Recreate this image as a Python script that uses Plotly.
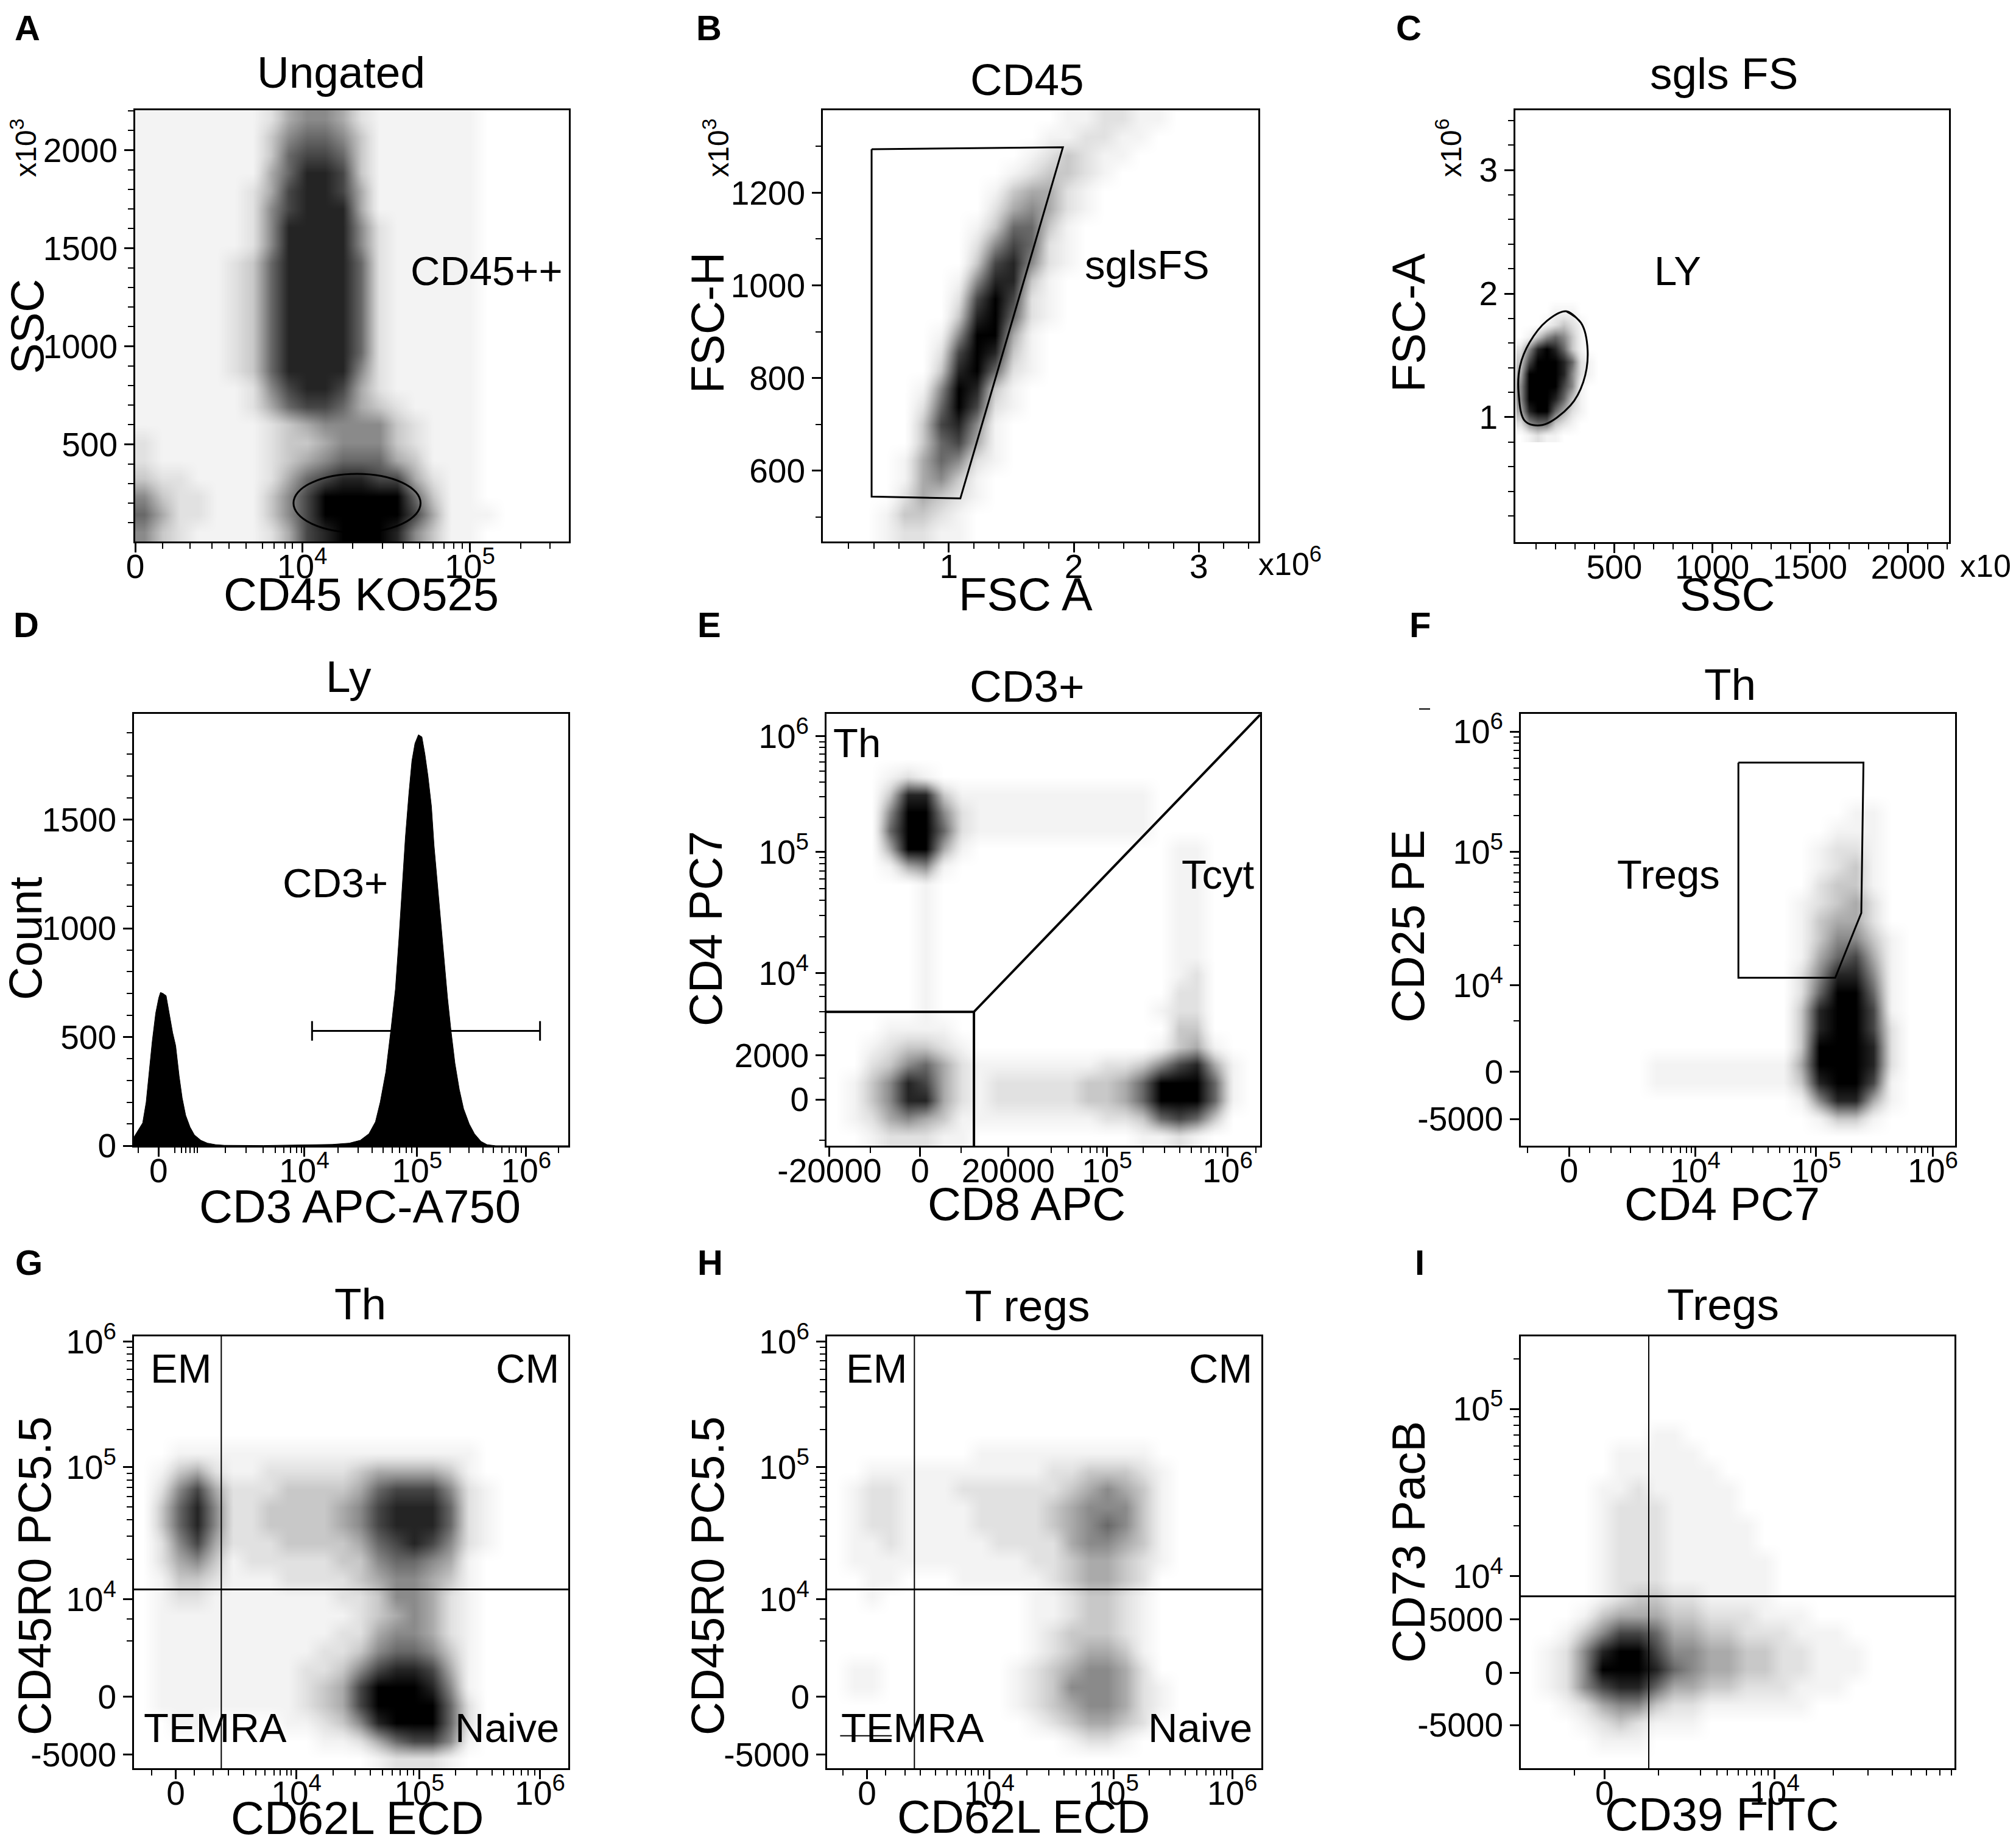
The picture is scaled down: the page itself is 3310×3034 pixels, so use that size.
import numpy as np
import plotly.graph_objects as go

W, H = 3310, 3034
FONT = "Liberation Sans, Arial, Helvetica, sans-serif"

# ---------------------------------------------------------------------------
# Dot density: one string per row of cells, top row first.
# Each digit says how densely the dots cover that cell: 0 empty .. 9 solid black.
# ---------------------------------------------------------------------------
A_density = [
    "111111124554211111100000",
    "111111135665311111100000",
    "111111136776311111100000",
    "111111146887311111100000",
    "111111247887411111100000",
    "111111257888411111100000",
    "111111258888521111100000",
    "111111258888521111100000",
    "111112368888621111100000",
    "111112368888621111100000",
    "111112368888621111100000",
    "111112368888621111100000",
    "111112368888621111100000",
    "111112368888621111100000",
    "111112368888521111100000",
    "111111257887421111100000",
    "111111246776432111100000",
    "111111123455553211100000",
    "211111123345553211100000",
    "211111123456664311100000",
    "322111124678877421100000",
    "532211135799999631100000",
    "642211135799999741110000",
    "532111124789998531100000",
]
A_grid_x = (0.0, 1.0)       # CD45 KO525 (display scale)
A_grid_y = (5, 2204)        # SSC x10^3

B_density = [
    "000000000000011221100000",
    "000000000000112211000000",
    "000000000001232110000000",
    "000000000012332100000000",
    "000000000134421000000000",
    "000000000245421000000000",
    "000000001366310000000000",
    "000000002576210000000000",
    "000000003785210000000000",
    "000000015883100000000000",
    "000000027972100000000000",
    "000000038962100000000000",
    "000000159941000000000000",
    "000000279831000000000000",
    "000000389621000000000000",
    "000001598310000000000000",
    "000002697210000000000000",
    "000003785100000000000000",
    "000003674100000000000000",
    "000014652100000000000000",
    "000014531000000000000000",
    "000024321000000000000000",
    "000133210000000000000000",
    "000122110000000000000000",
]
B_grid_x = (-0.007, 3.476)  # FSC A x10^6
B_grid_y = (447, 1378)      # FSC-H x10^3

C_density = [
    "0000000000",
    "0000111000",
    "0001232100",
    "0135653100",
    "2589863100",
    "3799986210",
    "4999985210",
    "5999975100",
    "5999863100",
    "4899642100",
    "2566321000",
    "0121100000",
]
C_grid_x = (0, 440)         # SSC x10^3
C_grid_y = (0.8, 2.0)       # FSC-A x10^6

E_density = [
    "000000000000000000000000",
    "000000000000000000000000",
    "000000000000000000000000",
    "000121000000000000000000",
    "000388311111111111000000",
    "000599521111111111000000",
    "000699621111111111000000",
    "000499410000000000011000",
    "000145100000000000011000",
    "000001000000000000011000",
    "000001000000000000011000",
    "000001000000000000011000",
    "000001000000000000011000",
    "000001000000000000011000",
    "000001000000000000012000",
    "000001000000000000022000",
    "000001000000000000122000",
    "000111100000000000033000",
    "001233210000000000134100",
    "002356421111111223578410",
    "013587421222223346999610",
    "013588421222223346999610",
    "012454311111111223676300",
    "001222110000000001121000",
]
F_density = [
    "000000000000000000000000",
    "000000000000000000000000",
    "000000000000000000000000",
    "000000000000000000000000",
    "000000000000000000000000",
    "000000000000000000110000",
    "000000000000000001110000",
    "000000000000000012210000",
    "000000000000000012310000",
    "000000000000000023310000",
    "000000000000000123420000",
    "000000000000000134420000",
    "000000000000000135531000",
    "000000000000000146741000",
    "000000000000000258851000",
    "000000000000000269961000",
    "000000000000000389971000",
    "000000000000000389972000",
    "000000000000000399982000",
    "000000011111111499982000",
    "000000011111111389971000",
    "000000000000000158841000",
    "000000000000000013310000",
    "000000000000000000000000",
]
G_density = [
    "000000000000000000000000",
    "000000000000000000000000",
    "000000000000000000000000",
    "000000000000000000000000",
    "000000000000000000000000",
    "000000000000000000000000",
    "001111111111111111100000",
    "013421122222344443100000",
    "025742223333467775210000",
    "036852233334578886210000",
    "036852233334578886210000",
    "025742223333467875210000",
    "024531222223356654100000",
    "013321112222345543100000",
    "012211111112235542100000",
    "011111111111234542100000",
    "011111111112245542100000",
    "011111111122356653100000",
    "011111111223578874100000",
    "011111111234799985100000",
    "011111111234799996200000",
    "001100001123589996200000",
    "000000000011246775100000",
    "000000000000012221000000",
]
H_density = [
    "000000000000000000000000",
    "000000000000000000000000",
    "000000000000000000000000",
    "000000000000000000000000",
    "000000000000000000000000",
    "000000000000000000000000",
    "000000001111111111000000",
    "001111111111223332100000",
    "012211122222234543100000",
    "012211112222345553100000",
    "012211112222345653100000",
    "011211111222245543100000",
    "011111111112234432100000",
    "001100011111234432000000",
    "001000000001123321000000",
    "000000000001123321000000",
    "000000000001233321000000",
    "000000000001234431000000",
    "011000000012345542000000",
    "011000000012355542100000",
    "000000000012345542100000",
    "000000000001234432000000",
    "000000000000012210000000",
    "000000000000000000000000",
]
I_density = [
    "000000000000000000000000",
    "000000000000000000000000",
    "000000000000000000000000",
    "000000000000000000000000",
    "000000000000000000000000",
    "000000011000000000000000",
    "000001111100000000000000",
    "000001111110000000000000",
    "000011211111000000000000",
    "000012221111000000000000",
    "000012221111100000000000",
    "000012221111100000000000",
    "000012221111110000000000",
    "000012221111110000000000",
    "000012332211110000000000",
    "000134443322211100000000",
    "001357764433222111000000",
    "012589975544332211100000",
    "012599986544332211100000",
    "012578864433222111000000",
    "001245532211111100000000",
    "000123211100000000000000",
    "000011100000000000000000",
    "000000000000000000000000",
]
UNIT = (0.0, 1.0)           # logicle axes are kept in display scale 0..1

# panel D histogram (CD3 APC-A750 display scale, count)
D_x = [0.0, 0.003, 0.012, 0.02, 0.028, 0.035, 0.042, 0.05, 0.057, 0.061, 0.067,
       0.074, 0.081, 0.089, 0.096, 0.104, 0.111, 0.119, 0.129, 0.139, 0.154,
       0.169, 0.188, 0.208, 0.298, 0.397, 0.456, 0.496, 0.521, 0.541, 0.556,
       0.567, 0.58, 0.592, 0.602, 0.61, 0.617, 0.625, 0.633, 0.64, 0.647,
       0.655, 0.663, 0.67, 0.677, 0.685, 0.691, 0.699, 0.707, 0.714, 0.722,
       0.73, 0.739, 0.749, 0.759, 0.772, 0.784, 0.799, 0.813, 0.833, 1.0]
D_count = [40, 50, 80, 105, 200, 340, 480, 610, 680, 705, 700,
           690, 610, 520, 460, 320, 220, 140, 86, 50, 25,
           12, 5, 2, 1, 3, 6, 12, 25, 55, 110,
           200, 340, 540, 720, 950, 1180, 1420, 1620, 1770, 1850,
           1890, 1880, 1800, 1700, 1560, 1380, 1200, 1000, 840, 680,
           530, 380, 260, 170, 100, 55, 20, 5, 0, 0]

# gates
A_gate_x = [0.365, 0.658]
A_gate_y = [51, 350]
B_gate_x = [0.383, 1.913, 1.093, 0.383, 0.383]
B_gate_y = [1294, 1298, 540, 544, 1294]
C_gate_x = [254, 331, 364, 342, 276, 133, 45, 12, 19, 67, 155, 254, 331]
C_gate_y = [1.857, 1.762, 1.540, 1.286, 1.095, 0.937, 0.968, 1.190, 1.413, 1.603, 1.778, 1.857, 1.762]
D_gate_x = [0.41, 0.935]
D_gate_y = 528
E_gate_x = [0.0, 0.34, 0.34, 0.34, 1.0]
E_gate_y = [0.31, 0.31, 0.0, 0.31, 0.998]
F_gate_x = [0.501, 0.789, 0.784, 0.724, 0.501, 0.501]
F_gate_y = [0.887, 0.887, 0.539, 0.389, 0.389, 0.887]
G_quad = (0.201, 0.414)
H_quad = (0.201, 0.414)
I_quad = (0.295, 0.398)

# ---------------------------------------------------------------------------
# page geometry (pixels): left, right, top, bottom of every plot frame
# ---------------------------------------------------------------------------
FRAMES = {
    1: (214, 926, 173, 881), 2: (1343, 2058, 173, 881), 3: (2480, 3192, 173, 882),
    4: (212, 925, 1164, 1873), 5: (1349, 2061, 1164, 1873), 6: (2489, 3202, 1164, 1873),
    7: (212, 925, 2186, 2895), 8: (1350, 2063, 2186, 2895), 9: (2489, 3201, 2186, 2895),
}

GRAYS = [255, 243, 225, 200, 170, 138, 104, 70, 36, 0]
CSCALE = [[i / 9, "rgb({0},{0},{0})".format(g)] for i, g in enumerate(GRAYS)]


def sfx(n):
    return "" if n == 1 else str(n)


def logm(start, decade, stop=1.0):
    out = []
    for m in range(2, 10):
        v = start + decade * np.log10(m)
        if v < stop:
            out.append(round(float(v), 4))
    return out


def sup(e):
    return "10<sup>%d</sup>" % e


def density(rows, xlim, ylim, n):
    for r in rows:
        assert len(r) == len(rows[0]), (n, r)
    nx, ny = len(rows[0]), len(rows)
    dx = (xlim[1] - xlim[0]) / nx
    dy = (ylim[1] - ylim[0]) / ny
    z = [[int(ch) for ch in r] for r in reversed(rows)]
    xs = [xlim[0] + (i + 0.5) * dx for i in range(nx)]
    ys = [ylim[0] + (j + 0.5) * dy for j in range(ny)]
    return go.Heatmap(z=z, x=xs, y=ys, xaxis="x" + sfx(n), yaxis="y" + sfx(n),
                      colorscale=CSCALE, zmin=0, zmax=9, zsmooth="best",
                      showscale=False, hoverinfo="skip")


def axis(n, letter, rng, vals, text, minor):
    l, r, t, b = FRAMES[n]
    if letter == "x":
        dom = [l / W, r / W]
        anchor = "y" + sfx(n)
        standoff = -24
    else:
        dom = [1 - b / H, 1 - t / H]
        anchor = "x" + sfx(n)
        standoff = 0
    return dict(domain=dom, anchor=anchor, range=rng, automargin=False,
                showline=True, mirror=True,
                linecolor="black", linewidth=3, showgrid=False, zeroline=False,
                ticks="outside", ticklen=15, tickwidth=3, tickcolor="black",
                ticklabelstandoff=standoff,
                tickmode="array", tickvals=vals, ticktext=text,
                tickfont=dict(family=FONT, size=55, color="black"),
                minor=dict(tickmode="array", tickvals=minor, ticks="outside",
                           ticklen=9, tickwidth=2, tickcolor="black", showgrid=False),
                fixedrange=True)


fig = go.Figure()

# density clouds
fig.add_trace(density(A_density, A_grid_x, A_grid_y, 1))
fig.add_trace(density(B_density, B_grid_x, B_grid_y, 2))
fig.add_trace(density(C_density, C_grid_x, C_grid_y, 3))
fig.add_trace(density(E_density, UNIT, UNIT, 5))
fig.add_trace(density(F_density, UNIT, UNIT, 6))
fig.add_trace(density(G_density, UNIT, UNIT, 7))
fig.add_trace(density(H_density, UNIT, UNIT, 8))
fig.add_trace(density(I_density, UNIT, UNIT, 9))

# histogram
fig.add_trace(go.Scatter(x=D_x, y=D_count, mode="lines", fill="tozeroy",
                         fillcolor="black", line=dict(color="black", width=1),
                         xaxis="x4", yaxis="y4", hoverinfo="skip"))

# polygon / curved gates drawn as lines
GATE = dict(color="black", width=3)
fig.add_trace(go.Scatter(x=B_gate_x, y=B_gate_y, mode="lines", line=GATE,
                         xaxis="x2", yaxis="y2", hoverinfo="skip"))
fig.add_trace(go.Scatter(x=C_gate_x, y=C_gate_y, mode="lines",
                         line=dict(color="black", width=3, shape="spline", smoothing=1.0),
                         xaxis="x3", yaxis="y3", hoverinfo="skip"))
fig.add_trace(go.Scatter(x=E_gate_x, y=E_gate_y, mode="lines",
                         line=dict(color="black", width=4),
                         xaxis="x5", yaxis="y5", hoverinfo="skip"))
fig.add_trace(go.Scatter(x=F_gate_x, y=F_gate_y, mode="lines", line=GATE,
                         xaxis="x6", yaxis="y6", hoverinfo="skip"))

shapes = [
    dict(type="circle", xref="x", yref="y", x0=A_gate_x[0], x1=A_gate_x[1],
         y0=A_gate_y[0], y1=A_gate_y[1], line=GATE),
    dict(type="line", xref="x4", yref="y4", x0=D_gate_x[0], x1=D_gate_x[1],
         y0=D_gate_y, y1=D_gate_y, line=GATE),
    dict(type="line", xref="x4", yref="y4", x0=D_gate_x[0], x1=D_gate_x[0],
         y0=D_gate_y - 45, y1=D_gate_y + 45, line=GATE),
    dict(type="line", xref="x4", yref="y4", x0=D_gate_x[1], x1=D_gate_x[1],
         y0=D_gate_y - 45, y1=D_gate_y + 45, line=GATE),
    # small stray segment inside TEMRA label of panel H
    dict(type="line", xref="x8", yref="y8", x0=0.03, x1=0.149, y0=0.075, y1=0.075,
         line=dict(color="black", width=2)),
    # small stray dash left of panel F title
    dict(type="line", xref="paper", yref="paper", x0=2322 / W, x1=2340 / W,
         y0=1 - 1156 / H, y1=1 - 1156 / H, line=dict(color="black", width=2)),
]
for n, (qx, qy) in ((7, G_quad), (8, H_quad), (9, I_quad)):
    s = sfx(n)
    shapes.append(dict(type="line", xref="x" + s, yref="y" + s, x0=qx, x1=qx, y0=0, y1=1,
                       line=dict(color="black", width=2)))
    shapes.append(dict(type="line", xref="x" + s, yref="y" + s, x0=0, x1=1, y0=qy, y1=qy,
                       line=dict(color="black", width=3)))


# axes
def lin(a, b, step, skip):
    return [round(float(v), 4) for v in np.arange(a, b, step)
            if all(abs(v - k) > 1e-6 for k in skip)]


L = {}
L["xaxis"] = axis(1, "x", [0, 1], [0, 0.385, 0.772], ["0", sup(4), sup(5)],
                  [0.0625, 0.127, 0.177, 0.216, 0.256, 0.294, 0.32, 0.345, 0.363]
                  + logm(0.385, 0.387) + logm(0.772, 0.387))
L["yaxis"] = axis(1, "y", [5, 2204], [500, 1000, 1500, 2000], ["500", "1000", "1500", "2000"],
                  lin(100, 2201, 100, [500, 1000, 1500, 2000]))
L["xaxis2"] = axis(2, "x", [-0.007, 3.476], [1, 2, 3], ["1", "2", "3"],
                   lin(0.2, 3.45, 0.2, [1, 2, 3]))
L["yaxis2"] = axis(2, "y", [447, 1378], [600, 800, 1000, 1200], ["600", "800", "1000", "1200"],
                   lin(500, 1378, 100, [600, 800, 1000, 1200]))
L["xaxis3"] = axis(3, "x", [-5, 2209], [500, 1000, 1500, 2000], ["500", "1000", "1500", "2000"],
                   lin(100, 2201, 100, [500, 1000, 1500, 2000]))
L["yaxis3"] = axis(3, "y", [-0.01, 3.483], [1, 2, 3], ["1", "2", "3"],
                   lin(0.2, 3.45, 0.2, [1, 2, 3]))
L["xaxis4"] = axis(4, "x", [0, 1], [0.0565, 0.392, 0.652, 0.903], ["0", sup(4), sup(5), sup(6)],
                   [0.0099, 0.094, 0.109, 0.119, 0.129, 0.139, 0.146, 0.21, 0.258, 0.298,
                    0.325, 0.345, 0.36, 0.374, 0.385]
                   + logm(0.392, 0.26) + logm(0.652, 0.251) + [0.977])
L["yaxis4"] = axis(4, "y", [0, 1986], [0, 500, 1000, 1500], ["0", "500", "1000", "1500"],
                   lin(100, 1986, 100, [500, 1000, 1500]))
L["xaxis5"] = axis(5, "x", [0, 1], [0.007, 0.2155, 0.419, 0.647, 0.925],
                   ["-20000", "0", "20000", sup(5), sup(6)],
                   [0.101, 0.31, 0.518, 0.558, 0.588, 0.608, 0.623, 0.637]
                   + logm(0.647, 0.278) + [0.99])
L["yaxis5"] = axis(5, "y", [0, 1], [0.107, 0.209, 0.4, 0.68, 0.948],
                   ["0", "2000", sup(4), sup(5), sup(6)],
                   [0.012, 0.157, 0.262, 0.31, 0.345, 0.372] + logm(0.4, 0.28) + logm(0.68, 0.268))
L["xaxis6"] = axis(6, "x", [0, 1], [0.111, 0.402, 0.68, 0.949], ["0", sup(4), sup(5), sup(6)],
                   [0.015, 0.159, 0.208, 0.253, 0.298, 0.327, 0.347, 0.367, 0.382, 0.392]
                   + logm(0.402, 0.278) + logm(0.68, 0.269))
L["yaxis6"] = axis(6, "y", [0, 1], [0.062, 0.171, 0.371, 0.68, 0.959],
                   ["-5000", "0", sup(4), sup(5), sup(6)],
                   [0.289] + logm(0.371, 0.309) + logm(0.68, 0.279))
L["xaxis7"] = axis(7, "x", [0, 1], [0.096, 0.374, 0.657, 0.935], ["0", sup(4), sup(5), sup(6)],
                   [0.04, 0.139, 0.183, 0.218, 0.253, 0.28, 0.302, 0.322, 0.337, 0.352, 0.362]
                   + logm(0.374, 0.283) + logm(0.657, 0.278))
L["yaxis7"] = axis(7, "y", [0, 1], [0.032, 0.166, 0.391, 0.697, 0.988],
                   ["-5000", "0", sup(4), sup(5), sup(6)],
                   [0.295, 0.345] + logm(0.391, 0.306) + logm(0.697, 0.291))
L["xaxis8"] = axis(8, "x", [0, 1], [0.092, 0.374, 0.66, 0.933], ["0", sup(4), sup(5), sup(6)],
                   [0.036, 0.135, 0.179, 0.214, 0.249, 0.276, 0.298, 0.318, 0.333, 0.348, 0.36]
                   + logm(0.374, 0.286) + logm(0.66, 0.273))
L["yaxis8"] = axis(8, "y", [0, 1], [0.032, 0.166, 0.391, 0.697, 0.988],
                   ["-5000", "0", sup(4), sup(5), sup(6)],
                   [0.295, 0.345] + logm(0.391, 0.306) + logm(0.697, 0.291))
L["xaxis9"] = axis(9, "x", [0, 1], [0.193, 0.585], ["0", sup(4)],
                   [0.124, 0.317, 0.415, 0.452, 0.476, 0.501, 0.521, 0.54, 0.555, 0.57]
                   + logm(0.585, 0.451))
L["yaxis9"] = axis(9, "y", [0, 1], [0.1, 0.221, 0.345, 0.445, 0.832],
                   ["-5000", "0", "5000", sup(4), sup(5)],
                   logm(0.445, 0.387) + [0.948])

# text (positions are where the capitals' centre sits; the shift lifts the
# annotation box so that its letters, not its box, land there)
ann = []


def page_text(text, x, y, size, angle=0, bold=False, top=False):
    if bold:
        text = "<b>%s</b>" % text
    if top:
        # y is the top of the text box
        ann.append(dict(text=text, xref="paper", yref="paper", x=x / W, y=1 - y / H,
                        xanchor="center", yanchor="top", showarrow=False,
                        font=dict(family=FONT, size=size, color="black")))
        return
    shift = dict(yshift=0.13 * size) if angle == 0 else dict(xshift=-0.13 * size)
    ann.append(dict(text=text, xref="paper", yref="paper", x=x / W, y=1 - y / H,
                    xanchor="center", yanchor="middle", showarrow=False, textangle=angle,
                    font=dict(family=FONT, size=size, color="black"), **shift))


def data_text(text, n, x, y, anchor="center", size=67):
    ann.append(dict(text=text, xref="x" + sfx(n), yref="y" + sfx(n), x=x, y=y,
                    xanchor=anchor, yanchor="middle", showarrow=False, yshift=0.13 * size,
                    font=dict(family=FONT, size=size, color="black")))


for txt, x in (("A", 37), ("B", 1156), ("C", 2305)):
    page_text(txt, x, 3, 58, bold=True, top=True)
for txt, x, y in (("D", 35, 1025), ("E", 1156, 1025), ("F", 2323, 1025),
                  ("G", 39, 2072), ("H", 1158, 2072), ("I", 2323, 2072)):
    page_text(txt, x, y, 58, bold=True)

for txt, x, y in (("Ungated", 552, 120), ("CD45", 1679, 132), ("sgls FS", 2822, 122),
                  ("Ly", 564, 1112), ("CD3+", 1679, 1128), ("Th", 2832, 1125),
                  ("Th", 583, 2142), ("T regs", 1679, 2145), ("Tregs", 2821, 2143)):
    page_text(txt, x, y, 73)

for txt, x, y in (("CD45 KO525", 585, 977), ("FSC A", 1676, 977), ("SSC", 2828, 977),
                  ("CD3 APC-A750", 583, 1982), ("CD8 APC", 1677, 1978), ("CD4 PC7", 2819, 1978),
                  ("CD62L ECD", 578, 2986), ("CD62L ECD", 1672, 2984), ("CD39 FITC", 2819, 2980)):
    page_text(txt, x, y, 76)

for txt, x, y in (("SSC", 46, 528), ("FSC-H", 1163, 522), ("FSC-A", 2314, 522),
                  ("Count", 44, 1533), ("CD4 PC7", 1160, 1517), ("CD25 PE", 2314, 1513),
                  ("CD45R0 PC5.5", 58, 2579), ("CD45R0 PC5.5", 1163, 2579),
                  ("CD73 PacB", 2314, 2524)):
    page_text(txt, x, y, 76, angle=-90)

page_text("x10<sup>3</sup>", 37, 235, 48, angle=-90)
page_text("x10<sup>3</sup>", 1174, 235, 48, angle=-90)
page_text("x10<sup>6</sup>", 2377, 235, 48, angle=-90)
page_text("x10<sup>6</sup>", 2110, 921, 52)
page_text("x10<sup>3</sup>", 3262, 924, 52)

data_text("CD45++", 1, 0.811, 1360)
data_text("sglsFS", 2, 2.586, 1033)
data_text("LY", 3, 825, 2.143)
data_text("CD3+", 4, 0.463, 1185)
data_text("Th", 5, 0.012, 0.921, "left")
data_text("Tcyt", 5, 0.99, 0.616, "right")
data_text("Tregs", 6, 0.34, 0.616)
for n, lx in ((7, (0.035, 0.02)), (8, (0.04, 0.03))):
    data_text("EM", n, lx[0], 0.914, "left")
    data_text("CM", n, 0.982, 0.914, "right")
    data_text("TEMRA", n, lx[1], 0.082, "left")
    data_text("Naive", n, 0.982, 0.082, "right")

fig.update_layout(width=W, height=H, autosize=False, showlegend=False,
                  margin=dict(l=0, r=0, t=0, b=0, autoexpand=False),
                  paper_bgcolor="white", plot_bgcolor="white",
                  shapes=shapes, annotations=ann, **L)

fig.write_html("out.html", config={"displayModeBar": False})
